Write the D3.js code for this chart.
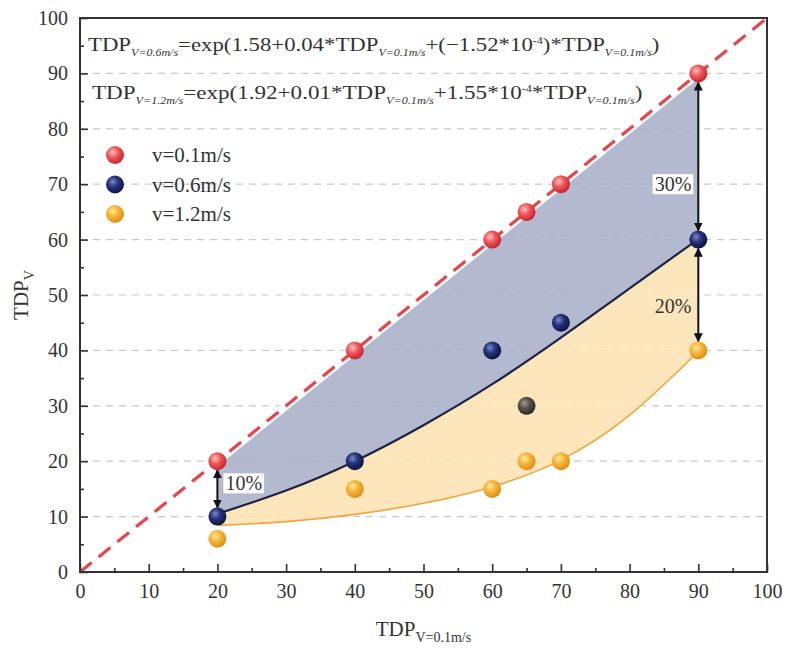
<!DOCTYPE html>
<html>
<head>
<meta charset="utf-8">
<script src="https://cdn.jsdelivr.net/npm/d3@7"></script>
<style>
	body { margin: 0; background: #fff; }
	svg text { font-family: 'Liberation Serif', 'Times New Roman', serif; fill: #333; }
</style>
</head>
<body>
<svg id="chart" width="785" height="653"></svg>
<script>
// measured points, TDP at v=0.1 on the x axis
const xValues = [20, 40, 60, 65, 70, 90]
const v01 = [20, 40, 60, 65, 70, 90]
const v06 = [10, 20, 40, 30, 45, 60]
const v12 = [6, 15, 15, 20, 20, 40]
const seriesNames = ['v=0.1m/s', 'v=0.6m/s', 'v=1.2m/s']
const mutedX = [65] // the v=0.6 point at 65 is drawn greyish in the source

// fitted curves
const curveX = [20, 30, 40, 50, 60, 70, 80, 90]
const curve06 = [10.5, 14.7, 20.0, 26.5, 33.9, 42.3, 51.2, 60.1]
const curve12 = [8.4, 9.1, 10.4, 12.4, 15.4, 20.2, 28.3, 39.8]

const xTicks = [0, 10, 20, 30, 40, 50, 60, 70, 80, 90, 100]
const yTicks = [0, 10, 20, 30, 40, 50, 60, 70, 80, 90, 100]
const minorTicks = [5, 15, 25, 35, 45, 55, 65, 75, 85, 95]
const gridValues = [10, 20, 30, 40, 50, 60, 70, 80, 90]

// difference arrows
const arrowX = [90, 90, 20]
const arrowFrom = [90, 60, 20]
const arrowTo = [60, 40, 10]
const arrowLabels = ['30%', '20%', '10%']
const labelY = [70, 48, 16]

const margin = { top: 18, right: 18, bottom: 81, left: 80 }
const svgWidth = 785
const svgHeight = 653
const width = svgWidth - margin.left - margin.right
const height = svgHeight - margin.top - margin.bottom

const svg = d3.select('#chart')
const g = svg.append('g').attr('transform', `translate(${margin.left},${margin.top})`)

const x = d3.scaleLinear().domain([0, 100]).range([0, width])
const y = d3.scaleLinear().domain([0, 100]).range([height, 0])

const colors = {
	red: ['#ffc2c2', '#ef5a5e', '#c8262d'],
	navy: ['#7b88c8', '#26337a', '#0e1545'],
	orange: ['#ffe9a0', '#f7b73a', '#de8f18'],
	muted: ['#a09a90', '#58524b', '#2e2a26']
}

const defs = svg.append('defs')
Object.entries(colors).forEach(([key, stops]) => {
	const grad = defs
		.append('radialGradient')
		.attr('id', 'ball-' + key)
		.attr('cx', '38%')
		.attr('cy', '35%')
		.attr('r', '65%')
	grad.append('stop').attr('offset', '0%').attr('stop-color', stops[0])
	grad.append('stop').attr('offset', '45%').attr('stop-color', stops[1])
	grad.append('stop').attr('offset', '100%').attr('stop-color', stops[2])
})

defs
	.append('marker')
	.attr('id', 'head')
	.attr('viewBox', '0 0 10 10')
	.attr('refX', 9)
	.attr('refY', 5)
	.attr('markerWidth', 4.5)
	.attr('markerHeight', 4.5)
	.attr('orient', 'auto-start-reverse')
	.append('path')
	.attr('d', 'M0,0L10,5L0,10Z')
	.attr('fill', '#111')

defs
	.append('clipPath')
	.attr('id', 'plot-clip')
	.append('rect')
	.attr('width', width)
	.attr('height', height)

// grid
g.append('g')
	.selectAll('line')
	.data(gridValues)
	.join('line')
	.attr('x1', 0)
	.attr('x2', width)
	.attr('y1', (d) => y(d))
	.attr('y2', (d) => y(d))
	.attr('stroke', '#c9c9c9')
	.attr('stroke-width', 1.2)
	.attr('stroke-dasharray', '7,6')

// shaded bands
const upperPts = xValues.map((d, i) => [x(d), y(v01[i])])
const midPts = curveX.map((d, i) => [x(d), y(curve06[i])])
const lowPts = curveX.map((d, i) => [x(d), y(curve12[i])])
const straight = d3.line()
const smooth = d3.line().curve(d3.curveNatural)

const bluePath =
	straight(upperPts) +
	smooth([...midPts].reverse()).replace(/^M/, 'L') +
	'Z'
g.append('path')
	.attr('d', bluePath)
	.attr('fill', '#a8b0c8')
	.attr('fill-opacity', 0.88)

const orangeArea = d3
	.area()
	.x((d, i) => x(curveX[i]))
	.y0((d, i) => y(curve12[i]))
	.y1((d, i) => y(curve06[i]))
	.curve(d3.curveNatural)
g.append('path')
	.attr('d', orangeArea(curveX))
	.attr('fill', '#fde2b3')
	.attr('fill-opacity', 0.88)

g.append('path')
	.attr('d', smooth(lowPts))
	.attr('fill', 'none')
	.attr('stroke', '#f2a43a')
	.attr('stroke-width', 1.6)

g.append('path')
	.attr('d', smooth(midPts))
	.attr('fill', 'none')
	.attr('stroke', '#1b2244')
	.attr('stroke-width', 2.2)

// 1:1 reference line
const diag = g.append('g').attr('clip-path', 'url(#plot-clip)')
diag.append('line')
	.attr('x1', x(xTicks[0]))
	.attr('y1', y(yTicks[0]))
	.attr('x2', x(xTicks[xTicks.length - 1]))
	.attr('y2', y(yTicks[yTicks.length - 1]))
	.attr('stroke', '#fff')
	.attr('stroke-width', 8)
diag.append('line')
	.attr('x1', x(xTicks[0]))
	.attr('y1', y(yTicks[0]))
	.attr('x2', x(xTicks[xTicks.length - 1]))
	.attr('y2', y(yTicks[yTicks.length - 1]))
	.attr('stroke', '#e8454b')
	.attr('stroke-width', 3.2)
	.attr('stroke-dasharray', '15,9')

// arrows between series
const arrows = g.append('g')
arrowX.forEach((ax, i) => {
	arrows
		.append('line')
		.attr('x1', x(ax))
		.attr('x2', x(ax))
		.attr('y1', y(arrowFrom[i]) + 9)
		.attr('y2', y(arrowTo[i]) - 9)
		.attr('stroke', '#111')
		.attr('stroke-width', 2)
		.attr('marker-start', 'url(#head)')
		.attr('marker-end', 'url(#head)')

	const onLeft = ax > 50
	const label = arrows
		.append('text')
		.attr('x', onLeft ? x(ax) - 7 : x(ax) + 8)
		.attr('y', y(labelY[i]))
		.attr('dy', '0.35em')
		.attr('text-anchor', onLeft ? 'end' : 'start')
		.style('font-size', '20px')
		.text(arrowLabels[i])
	if (arrowLabels[i] !== '20%') {
		const bb = label.node().getBBox()
		arrows
			.insert('rect', () => label.node())
			.attr('x', bb.x - 2)
			.attr('y', bb.y + 1)
			.attr('width', bb.width + 4)
			.attr('height', bb.height - 2)
			.attr('fill', '#fff')
	}
})

// points
const series = [
	{ name: seriesNames[0], values: v01, ball: 'red' },
	{ name: seriesNames[1], values: v06, ball: 'navy' },
	{ name: seriesNames[2], values: v12, ball: 'orange' }
]

series.forEach((s) => {
	g.append('g')
		.selectAll('circle')
		.data(xValues.map((d, i) => ({ x: d, y: s.values[i] })))
		.join('circle')
		.attr('cx', (d) => x(d.x))
		.attr('cy', (d) => y(d.y))
		.attr('r', 9)
		.attr('fill', (d) =>
			s.ball === 'navy' && mutedX.includes(d.x)
				? 'url(#ball-muted)'
				: `url(#ball-${s.ball})`
		)
})

// axes with inward ticks
g.append('g')
	.attr('transform', `translate(0,${height})`)
	.call(d3.axisBottom(x).tickValues(xTicks).tickSize(-8).tickPadding(12))
g.append('g')
	.attr('transform', `translate(0,${height})`)
	.call(d3.axisBottom(x).tickValues(minorTicks).tickSize(-4).tickFormat(''))

g.append('g').call(
	d3.axisLeft(y).tickValues(yTicks).tickSize(-8).tickPadding(12)
)
g.append('g').call(
	d3.axisLeft(y).tickValues(minorTicks).tickSize(-4).tickFormat('')
)

g.selectAll('.domain').remove()
g.selectAll('.tick line').attr('stroke', '#333').attr('stroke-width', 1.6)
g.selectAll('.tick text')
	.style('font-size', '20px')
	.style('font-family', "'Liberation Serif', serif")
	.attr('fill', '#333')

g.append('rect')
	.attr('width', width)
	.attr('height', height)
	.attr('fill', 'none')
	.attr('stroke', '#333')
	.attr('stroke-width', 2)

// legend
const legend = g.append('g').attr('transform', 'translate(35,137)')
series.forEach((s, i) => {
	const row = legend.append('g').attr('transform', `translate(0,${i * 29.5})`)
	row.append('circle').attr('r', 9).attr('fill', `url(#ball-${s.ball})`)
	row.append('text')
		.attr('x', 37)
		.attr('dy', '0.35em')
		.style('font-size', '21px')
		.text(s.name)
})

// axis titles
function subText(sel, main, sub, size, subSize) {
	sel.append('tspan').style('font-size', size + 'px').text(main)
	sel.append('tspan')
		.attr('dy', size * 0.3)
		.style('font-size', subSize + 'px')
		.text(sub)
}

const xTitle = svg
	.append('text')
	.attr('x', margin.left + width / 2)
	.attr('y', 636)
	.attr('text-anchor', 'middle')
subText(xTitle, 'TDP', 'V=0.1m/s', 21, 14)

const yTitle = svg
	.append('text')
	.attr('transform', `translate(28,${margin.top + height / 2}) rotate(-90)`)
	.attr('text-anchor', 'middle')
subText(yTitle, 'TDP', 'V', 21, 14)

// fitted equations
const eqParts = [
	[
		['TDP', 0],
		['V=0.6m/s', 1],
		['=exp(1.58+0.04*TDP', 0],
		['V=0.1m/s', 1],
		['+(−1.52*10', 0],
		['-4', 2],
		[')*TDP', 0],
		['V=0.1m/s', 1],
		[')', 0]
	],
	[
		['TDP', 0],
		['V=1.2m/s', 1],
		['=exp(1.92+0.01*TDP', 0],
		['V=0.1m/s', 1],
		['+1.55*10', 0],
		['-4', 2],
		['*TDP', 0],
		['V=0.1m/s', 1],
		[')', 0]
	]
]
const eqX = [88, 92]
const eqY = [51, 99]
const eqWidth = [572, 551]

eqParts.forEach((parts, li) => {
	const t = svg.append('text').attr('x', 0).attr('y', 0)
	let shift = 0
	parts.forEach(([str, kind]) => {
		const target = kind === 1 ? 5 : kind === 2 ? -7 : 0
		t.append('tspan')
			.attr('dy', target - shift)
			.style('font-size', kind === 0 ? '19px' : '10px')
			.style('font-style', kind === 1 ? 'italic' : 'normal')
			.text(str)
		shift = target
	})
	const w = t.node().getComputedTextLength()
	t.attr(
		'transform',
		`translate(${eqX[li]},${eqY[li]}) scale(${eqWidth[li] / w},1)`
	)
})
</script>
</body>
</html>
